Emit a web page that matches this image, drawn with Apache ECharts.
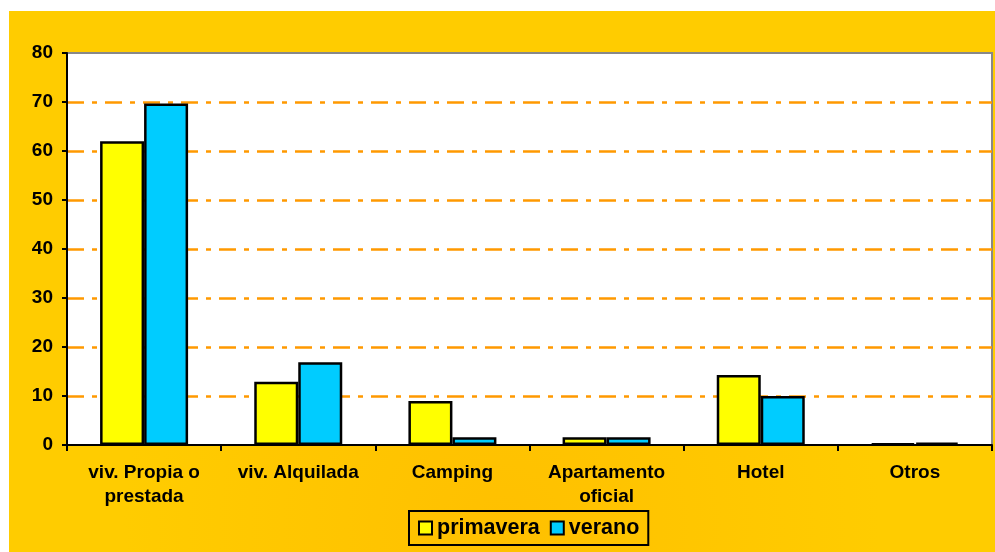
<!DOCTYPE html>
<html>
<head>
<meta charset="utf-8">
<script src="https://cdn.jsdelivr.net/npm/echarts@6/dist/echarts.min.js"></script>
<style>html,body{margin:0;padding:0;background:#fff;}#c{width:995px;height:552px;}</style>
</head>
<body>
<div id="c"></div>
<script>
const categories = ['viv. Propia o\nprestada', 'viv. Alquilada', 'Camping', 'Apartamento\noficial', 'Hotel', 'Otros'];
const primavera = [62, 12.9, 9, 1.6, 14.3, 0.3];
const verano = [69.7, 16.9, 1.6, 1.6, 10, 0.5];
const yTicks = [0, 80, 10];

const chart = echarts.init(document.getElementById('c'));
const font = 'Liberation Sans, Arial, sans-serif';
chart.setOption({
  backgroundColor: '#ffffff',
  animation: false,
  graphic: [{
    type: 'rect', z: -10, silent: true,
    shape: { x: 9, y: 11, width: 986, height: 541 },
    style: { fill: new echarts.graphic.RadialGradient(0.5, 0.95, 0.7, [
      { offset: 0, color: '#FFC000' }, { offset: 1, color: '#FFCC00' }]) }
  }],
  grid: { left: 67, top: 53, right: 3, bottom: 107, show: true, backgroundColor: '#ffffff', borderColor: '#888888', borderWidth: 2 },
  legend: {
    left: 409, top: 511, orient: 'horizontal',
    borderColor: '#000', borderWidth: 2, padding: [5, 9], itemGap: 10,
    itemWidth: 13, itemHeight: 13, icon: 'rect',
    itemStyle: { borderColor: '#000', borderWidth: 2 },
    textStyle: { fontFamily: font, fontSize: 21.5, fontWeight: 'bold', color: '#000', lineHeight: 24 },
    data: ['primavera', 'verano']
  },
  xAxis: {
    type: 'category', data: categories,
    axisLine: { lineStyle: { color: '#000', width: 2 } },
    axisTick: { show: true, length: 6, lineStyle: { color: '#000', width: 2 } },
    axisLabel: { fontFamily: font, fontSize: 19, fontWeight: 'bold', color: '#000', margin: 16, lineHeight: 24, interval: 0 }
  },
  yAxis: {
    type: 'value', min: yTicks[0], max: yTicks[1], interval: yTicks[2],
    axisLine: { show: true, lineStyle: { color: '#000', width: 2 } },
    axisTick: { show: true, length: 5, lineStyle: { color: '#000', width: 2 } },
    axisLabel: { fontFamily: font, fontSize: 19, fontWeight: 'bold', color: '#000', margin: 14 },
    splitLine: { showMaxLine: false, showMinLine: false, lineStyle: { color: '#FF9900', width: 2.5, type: [17, 8, 5, 8] } }
  },
  series: [
    { name: 'primavera', type: 'bar', data: primavera, barWidth: 44, barGap: '0%',
      itemStyle: { color: '#FFFF00', borderColor: '#000', borderWidth: 2.5 } },
    { name: 'verano', type: 'bar', data: verano, barWidth: 44, barGap: '0%',
      itemStyle: { color: '#00CCFF', borderColor: '#000', borderWidth: 2.5 } }
  ]
});
</script>
</body>
</html>
